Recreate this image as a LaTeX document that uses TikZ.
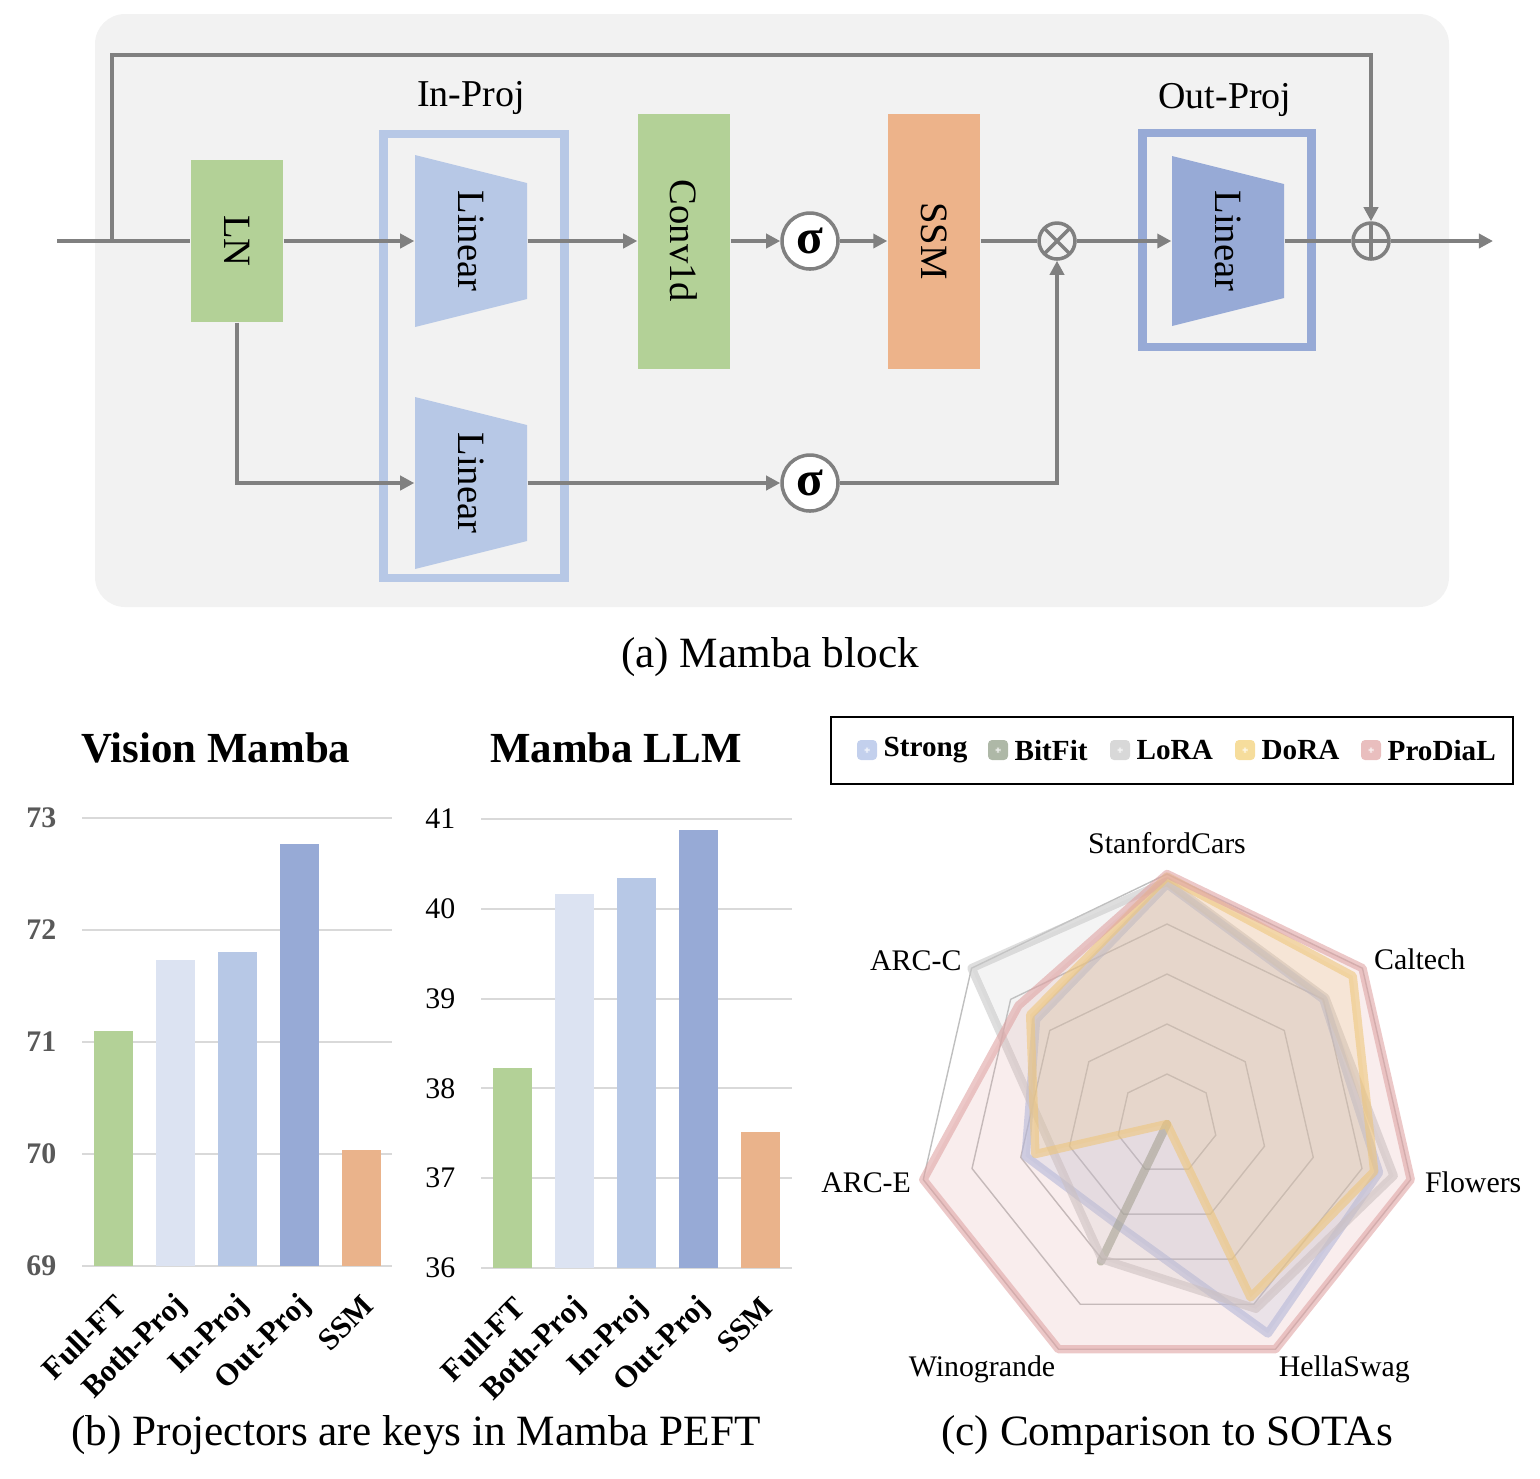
\documentclass[tikz,border=0pt]{standalone}
\usepackage{fontspec}
\setmainfont{Liberation Serif}
\usepackage{graphicx}
\usetikzlibrary{arrows.meta, positioning, calc}

\definecolor{panel}{HTML}{F2F2F2}
\definecolor{wiregray}{HTML}{808080}
\definecolor{lngreen}{HTML}{B3D197}
\definecolor{ssmorange}{HTML}{EDB38A}
\definecolor{inblue}{HTML}{B7C8E6}
\definecolor{outblue}{HTML}{97AAD6}
\definecolor{bothblue}{HTML}{DCE3F2}
\definecolor{barorange}{HTML}{EAB38B}
\definecolor{gridgray}{HTML}{D9D9D9}
\definecolor{tickgray}{HTML}{595959}
\definecolor{strongc}{HTML}{A9BCE6}
\definecolor{bitfitc}{HTML}{8C9A82}
\definecolor{lorac}{HTML}{C8C8C8}
\definecolor{dorac}{HTML}{F2CF72}
\definecolor{prodialc}{HTML}{DFA3A3}

% radar polygon: name prefix, colour, seven values
\newcommand{\radarseries}[3]{%
  \foreach \v [count=\k from 0] in {#3} {\coordinate (#1\k) at ($(rc)+({-90+\k*360/7}:{250*\v})$);}
  \filldraw[series=#2] (#10) -- (#11) -- (#12) -- (#13) -- (#14) -- (#15) -- (#16) -- cycle;}

\begin{document}
\begin{tikzpicture}[x=0.1mm, y=-0.1mm,
    wire/.style={draw=wiregray, line width=1pt},
    arr/.style={wire, -{Triangle[length=4pt, width=4pt]}},
    block/.style={minimum width=9.2mm, minimum height=25.5mm, inner sep=0pt,
                  font=\fontsize{11}{11}\selectfont},
    linear/.style={minimum width=11.2mm, minimum height=17.2mm, inner sep=0pt,
                   fill=panel, font=\fontsize{11}{11}\selectfont,
                   path picture={\fill[#1] (path picture bounding box.north west)
                     -- ([yshift=-2.8mm]path picture bounding box.north east)
                     -- ([yshift=2.8mm]path picture bounding box.south east)
                     -- (path picture bounding box.south west) -- cycle;}},
    projframe/.style={draw=#1, line width=2.3pt, inner sep=0pt},
    sig/.style={circle, draw=wiregray, line width=1pt, fill=white, minimum size=5.6mm,
                inner sep=0pt, font=\fontsize{14}{14}\selectfont\bfseries},
    op/.style={circle, draw=wiregray, line width=1pt, fill=panel, minimum size=3.6mm, inner sep=0pt},
    mulop/.style={op, path picture={\draw[wiregray, line width=1pt]
        (path picture bounding box.north west) -- (path picture bounding box.south east)
        (path picture bounding box.north east) -- (path picture bounding box.south west);}},
    addop/.style={op, path picture={\draw[wiregray, line width=1pt]
        (path picture bounding box.north) -- (path picture bounding box.south)
        (path picture bounding box.west) -- (path picture bounding box.east);}},
    lbl/.style={font=\fontsize{10.8}{10.8}\selectfont},
    captxt/.style={font=\fontsize{12.3}{12.3}\selectfont},
    charttitle/.style={font=\fontsize{12.2}{12.2}\selectfont\bfseries},
    gridln/.style={draw=gridgray, line width=0.6pt},
    tickb/.style={anchor=east, text=tickgray, font=\fontsize{8.5}{8.5}\selectfont\bfseries, inner sep=0pt},
    tickn/.style={anchor=east, font=\fontsize{8.5}{8.5}\selectfont, inner sep=0pt},
    xlbl/.style={rotate=45, anchor=east, inner sep=0.5pt, font=\fontsize{8.8}{8.8}\selectfont\bfseries},
    legmark/.style={minimum size=2mm, inner sep=0pt, rounded corners=0.4mm, fill=#1, fill opacity=0.7,
        path picture={\fill[white] (path picture bounding box.center) +(-0.25mm,-0.25mm) rectangle +(0.25mm,0.25mm);}},
    legtxt/.style={inner sep=0.5pt, font=\fontsize{8.3}{8.3}\selectfont\bfseries},
    rgrid/.style={draw=black!25, line width=0.4pt},
    series/.style={draw=#1, fill=#1, draw opacity=0.6, fill opacity=0.2, line width=2.4pt, line join=round},
    axlbl/.style={inner sep=0pt, font=\fontsize{8.5}{8.5}\selectfont}
]
\useasboundingbox (0,0) rectangle (1540,1478);

% (a) Mamba block
\fill[panel, rounded corners=3mm] (95,14) rectangle (1449,607);

\node[projframe=inblue, minimum width=18.1mm, minimum height=44.4mm] (inframe) at (474,356) {};
\node[projframe=outblue, minimum width=16.9mm, minimum height=21.4mm] (outframe) at (1227,240) {};
\node[lbl] (inlbl) at (471,98) {In-Proj};
\node[lbl] (outlbl) at (1225,100) {Out-Proj};

\node[block, fill=lngreen, minimum height=16.2mm] (ln) at (237,241) {\rotatebox{-90}{LN}};
\node[linear=inblue] (lin1) at (471,241) {\rotatebox{-90}{Linear}};
\node[linear=inblue] (lin2) at (471,483) {\rotatebox{-90}{Linear}};
\node[block, fill=lngreen] (conv) at (684,241) {\rotatebox{-90}{Conv1d}};
\node[sig] (sig1) at (810,241) {σ};
\node[sig] (sig2) at (810,483) {σ};
\node[block, fill=ssmorange] (ssm) at (934,241) {\rotatebox{-90}{SSM}};
\node[mulop] (mul) at (1057,241) {};
\node[linear=outblue, minimum height=17mm] (lin3) at (1228,241) {\rotatebox{-90}{Linear}};
\node[addop] (add) at (1371,241) {};

\coordinate (in) at (57,241);
\coordinate (split) at (112,241);
\coordinate (skip) at (112,55);
\coordinate (out) at (1493,241);

\draw[wire] (in) -- (ln);
\draw[arr] (split) -- (skip) -| (add);
\draw[arr] (ln) -- (lin1);
\draw[arr] (lin1) -- (conv);
\draw[arr] (conv) -- (sig1);
\draw[arr] (sig1) -- (ssm);
\draw[wire] (ssm) -- (mul);
\draw[arr] (mul) -- (lin3);
\draw[wire] (lin3) -- (add);
\draw[arr] (add) -- (out);
\draw[arr] (ln) |- (lin2);
\draw[arr] (lin2) -- (sig2);
\draw[arr] (sig2) -| (mul);

\node[captxt] (capa) at (770,657) {(a) Mamba block};

% (b) Vision Mamba
\node[charttitle] (vmt) at (216,748) {Vision Mamba};
\foreach \v in {69,...,73} {
  \draw[gridln] (82,{1266-112*(\v-69)}) -- (392,{1266-112*(\v-69)});
  \node[tickb] at (57,{1266-112*(\v-69)}) {\v};
}
\foreach \v/\c [count=\i from 0] in {71.10/lngreen, 71.73/bothblue, 71.80/inblue, 72.77/outblue, 70.04/barorange}
  \fill[\c] ({94+62*\i},1266) rectangle ({133+62*\i},{1266-112*(\v-69)});
\foreach \t [count=\i from 0] in {Full-FT, Both-Proj, In-Proj, Out-Proj, SSM}
  \node[xlbl] at ({122+62*\i},1299) {\t};

% (b) Mamba LLM
\node[charttitle] (llmt) at (616,748) {Mamba LLM};
\foreach \v in {36,...,41} {
  \draw[gridln] (481,{1268-89.8*(\v-36)}) -- (792,{1268-89.8*(\v-36)});
  \node[tickn] at (456,{1268-89.8*(\v-36)}) {\v};
}
\foreach \v/\c [count=\i from 0] in {38.23/lngreen, 40.16/bothblue, 40.34/inblue, 40.88/outblue, 37.51/barorange}
  \fill[\c] ({493+62*\i},1268) rectangle ({532+62*\i},{1268-89.8*(\v-36)});
\foreach \t [count=\i from 0] in {Full-FT, Both-Proj, In-Proj, Out-Proj, SSM}
  \node[xlbl] at ({521+62*\i},1301) {\t};

\node[captxt] (capb) at (416,1435) {(b) Projectors are keys in Mamba PEFT};

% (c) radar
\node[draw=black, line width=0.6pt, minimum width=68.2mm, minimum height=6.7mm, inner sep=0pt] (legend) at (1172,750.5) {};
\foreach \n/\c/\x in {Strong/strongc/867, BitFit/bitfitc/998, LoRA/lorac/1120, DoRA/dorac/1245, ProDiaL/prodialc/1371} {
  \node[legmark=\c] (m\n) at (\x,750) {};
  \node[legtxt, right=0.35mm of m\n] (t\n) {\n};
}

\coordinate (rc) at (1167,1124);
\foreach \r in {50,100,...,250}
  \draw[rgrid] (rc) +(-90:\r) \foreach \k in {1,...,6} { -- +({-90+\k*360/7}:\r)} -- cycle;

\radarseries{str}{strongc}{.96,.80,.87,.93,.45,.58,.67}
\radarseries{bit}{bitfitc}{0,0,0,0,.61,0,0}
\radarseries{lor}{lorac}{.97,.81,.93,.82,.60,.47,1}
\radarseries{dor}{dorac}{.99,.95,.85,.77,0,.54,.70}
\radarseries{pro}{prodialc}{1,1,1,1,1,1,.76}

\node[axlbl] (lsc) at ($(rc)+(-90:281)$) {StanfordCars};
\node[axlbl, anchor=west] (lcal) at ($(rc)+({-90+360/7}:264)$) {Caltech};
\node[axlbl, anchor=west] (lflo) at ($(rc)+({-90+2*360/7}:264)$) {Flowers};
\node[axlbl, anchor=north west] (lhel) at ($(rc)+({-90+3*360/7}:256)$) {HellaSwag};
\node[axlbl, anchor=north east] (lwin) at ($(rc)+({-90+4*360/7}:256)$) {Winogrande};
\node[axlbl, anchor=east] (lare) at ($(rc)+({-90+5*360/7}:262)$) {ARC-E};
\node[axlbl, anchor=east] (larc) at ($(rc)+({-90+6*360/7}:262)$) {ARC-C};

\node[captxt] (capc) at (1167,1435) {(c) Comparison to SOTAs};
\end{tikzpicture}
\end{document}
